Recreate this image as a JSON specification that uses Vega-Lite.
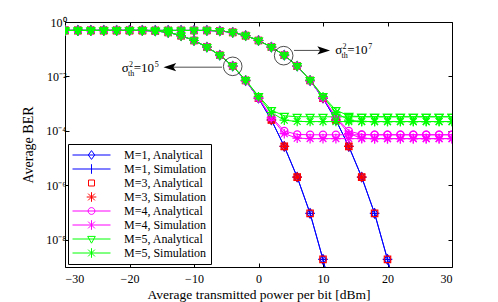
{
"$schema":"https://vega.github.io/schema/vega-lite/v6.json",
"width":387,"height":245,
"autosize":{"type":"none"},
"padding":{"left":65,"top":22,"right":46,"bottom":35},
"config":{"view":{"stroke":null},"font":"Liberation Serif",
"axis":{"grid":false,"domainColor":"black","tickColor":"black","labelColor":"black","titleColor":"black","labelFont":"Liberation Serif","titleFont":"Liberation Serif","titleFontWeight":"normal","labelFontSize":12,"titleFontSize":13,"tickSize":-4,"domainWidth":1,"tickWidth":1}},
"datasets":{
"ber":[
{"s":"m1a","g":"a","x":-30,"y":0.49},{"s":"m1a","g":"a","x":-28,"y":0.49},{"s":"m1a","g":"a","x":-26,"y":0.49},{"s":"m1a","g":"a","x":-24,"y":0.49},{"s":"m1a","g":"a","x":-22,"y":0.49},{"s":"m1a","g":"a","x":-20,"y":0.49},{"s":"m1a","g":"a","x":-18,"y":0.49},{"s":"m1a","g":"a","x":-16,"y":0.468},{"s":"m1a","g":"a","x":-14,"y":0.417},{"s":"m1a","g":"a","x":-12,"y":0.316},{"s":"m1a","g":"a","x":-10,"y":0.209},{"s":"m1a","g":"a","x":-8,"y":0.12},{"s":"m1a","g":"a","x":-6,"y":0.0603},{"s":"m1a","g":"a","x":-4,"y":0.024},{"s":"m1a","g":"a","x":-2,"y":0.00708},{"s":"m1a","g":"a","x":0,"y":0.00158},{"s":"m1a","g":"a","x":2,"y":0.000251},{"s":"m1a","g":"a","x":4,"y":2.69e-5},{"s":"m1a","g":"a","x":6,"y":2e-6},{"s":"m1a","g":"a","x":8,"y":9.3e-8},{"s":"m1a","g":"a","x":10,"y":1.9e-9},{"s":"m1a","g":"a","x":12,"y":2.5e-11},
{"s":"m1a","g":"b","x":-30,"y":0.49},{"s":"m1a","g":"b","x":-28,"y":0.49},{"s":"m1a","g":"b","x":-26,"y":0.49},{"s":"m1a","g":"b","x":-24,"y":0.49},{"s":"m1a","g":"b","x":-22,"y":0.49},{"s":"m1a","g":"b","x":-20,"y":0.49},{"s":"m1a","g":"b","x":-18,"y":0.49},{"s":"m1a","g":"b","x":-16,"y":0.49},{"s":"m1a","g":"b","x":-14,"y":0.49},{"s":"m1a","g":"b","x":-12,"y":0.49},{"s":"m1a","g":"b","x":-10,"y":0.49},{"s":"m1a","g":"b","x":-8,"y":0.49},{"s":"m1a","g":"b","x":-6,"y":0.468},{"s":"m1a","g":"b","x":-4,"y":0.417},{"s":"m1a","g":"b","x":-2,"y":0.316},{"s":"m1a","g":"b","x":0,"y":0.209},{"s":"m1a","g":"b","x":2,"y":0.12},{"s":"m1a","g":"b","x":4,"y":0.0603},{"s":"m1a","g":"b","x":6,"y":0.024},{"s":"m1a","g":"b","x":8,"y":0.00708},{"s":"m1a","g":"b","x":10,"y":0.00158},{"s":"m1a","g":"b","x":12,"y":0.000251},{"s":"m1a","g":"b","x":14,"y":2.69e-5},{"s":"m1a","g":"b","x":16,"y":2e-6},{"s":"m1a","g":"b","x":18,"y":9.3e-8},{"s":"m1a","g":"b","x":20,"y":1.9e-9},{"s":"m1a","g":"b","x":22,"y":2.5e-11},
{"s":"m1s","g":"a","x":-30,"y":0.49},{"s":"m1s","g":"a","x":-28,"y":0.49},{"s":"m1s","g":"a","x":-26,"y":0.49},{"s":"m1s","g":"a","x":-24,"y":0.49},{"s":"m1s","g":"a","x":-22,"y":0.49},{"s":"m1s","g":"a","x":-20,"y":0.49},{"s":"m1s","g":"a","x":-18,"y":0.49},{"s":"m1s","g":"a","x":-16,"y":0.468},{"s":"m1s","g":"a","x":-14,"y":0.417},{"s":"m1s","g":"a","x":-12,"y":0.316},{"s":"m1s","g":"a","x":-10,"y":0.209},{"s":"m1s","g":"a","x":-8,"y":0.12},{"s":"m1s","g":"a","x":-6,"y":0.0603},{"s":"m1s","g":"a","x":-4,"y":0.024},{"s":"m1s","g":"a","x":-2,"y":0.00708},{"s":"m1s","g":"a","x":0,"y":0.00158},{"s":"m1s","g":"a","x":2,"y":0.000251},{"s":"m1s","g":"a","x":4,"y":2.69e-5},{"s":"m1s","g":"a","x":6,"y":2e-6},{"s":"m1s","g":"a","x":8,"y":9.3e-8},{"s":"m1s","g":"a","x":10,"y":1.9e-9},{"s":"m1s","g":"a","x":12,"y":2.5e-11},
{"s":"m1s","g":"b","x":-30,"y":0.49},{"s":"m1s","g":"b","x":-28,"y":0.49},{"s":"m1s","g":"b","x":-26,"y":0.49},{"s":"m1s","g":"b","x":-24,"y":0.49},{"s":"m1s","g":"b","x":-22,"y":0.49},{"s":"m1s","g":"b","x":-20,"y":0.49},{"s":"m1s","g":"b","x":-18,"y":0.49},{"s":"m1s","g":"b","x":-16,"y":0.49},{"s":"m1s","g":"b","x":-14,"y":0.49},{"s":"m1s","g":"b","x":-12,"y":0.49},{"s":"m1s","g":"b","x":-10,"y":0.49},{"s":"m1s","g":"b","x":-8,"y":0.49},{"s":"m1s","g":"b","x":-6,"y":0.468},{"s":"m1s","g":"b","x":-4,"y":0.417},{"s":"m1s","g":"b","x":-2,"y":0.316},{"s":"m1s","g":"b","x":0,"y":0.209},{"s":"m1s","g":"b","x":2,"y":0.12},{"s":"m1s","g":"b","x":4,"y":0.0603},{"s":"m1s","g":"b","x":6,"y":0.024},{"s":"m1s","g":"b","x":8,"y":0.00708},{"s":"m1s","g":"b","x":10,"y":0.00158},{"s":"m1s","g":"b","x":12,"y":0.000251},{"s":"m1s","g":"b","x":14,"y":2.69e-5},{"s":"m1s","g":"b","x":16,"y":2e-6},{"s":"m1s","g":"b","x":18,"y":9.3e-8},{"s":"m1s","g":"b","x":20,"y":1.9e-9},{"s":"m1s","g":"b","x":22,"y":2.5e-11},
{"s":"m3a","g":"a","x":-30,"y":0.49},{"s":"m3a","g":"a","x":-28,"y":0.49},{"s":"m3a","g":"a","x":-26,"y":0.49},{"s":"m3a","g":"a","x":-24,"y":0.49},{"s":"m3a","g":"a","x":-22,"y":0.49},{"s":"m3a","g":"a","x":-20,"y":0.49},{"s":"m3a","g":"a","x":-18,"y":0.49},{"s":"m3a","g":"a","x":-16,"y":0.468},{"s":"m3a","g":"a","x":-14,"y":0.417},{"s":"m3a","g":"a","x":-12,"y":0.316},{"s":"m3a","g":"a","x":-10,"y":0.209},{"s":"m3a","g":"a","x":-8,"y":0.12},{"s":"m3a","g":"a","x":-6,"y":0.0603},{"s":"m3a","g":"a","x":-4,"y":0.024},{"s":"m3a","g":"a","x":-2,"y":0.00708},{"s":"m3a","g":"a","x":0,"y":0.00158},{"s":"m3a","g":"a","x":2,"y":0.000251},{"s":"m3a","g":"a","x":4,"y":2.69e-5},{"s":"m3a","g":"a","x":6,"y":2e-6},{"s":"m3a","g":"a","x":8,"y":9.3e-8},{"s":"m3a","g":"a","x":10,"y":1.9e-9},
{"s":"m3a","g":"b","x":-30,"y":0.49},{"s":"m3a","g":"b","x":-28,"y":0.49},{"s":"m3a","g":"b","x":-26,"y":0.49},{"s":"m3a","g":"b","x":-24,"y":0.49},{"s":"m3a","g":"b","x":-22,"y":0.49},{"s":"m3a","g":"b","x":-20,"y":0.49},{"s":"m3a","g":"b","x":-18,"y":0.49},{"s":"m3a","g":"b","x":-16,"y":0.49},{"s":"m3a","g":"b","x":-14,"y":0.49},{"s":"m3a","g":"b","x":-12,"y":0.49},{"s":"m3a","g":"b","x":-10,"y":0.49},{"s":"m3a","g":"b","x":-8,"y":0.49},{"s":"m3a","g":"b","x":-6,"y":0.468},{"s":"m3a","g":"b","x":-4,"y":0.417},{"s":"m3a","g":"b","x":-2,"y":0.316},{"s":"m3a","g":"b","x":0,"y":0.209},{"s":"m3a","g":"b","x":2,"y":0.12},{"s":"m3a","g":"b","x":4,"y":0.0603},{"s":"m3a","g":"b","x":6,"y":0.024},{"s":"m3a","g":"b","x":8,"y":0.00708},{"s":"m3a","g":"b","x":10,"y":0.00158},{"s":"m3a","g":"b","x":12,"y":0.000251},{"s":"m3a","g":"b","x":14,"y":2.69e-5},{"s":"m3a","g":"b","x":16,"y":2e-6},{"s":"m3a","g":"b","x":18,"y":9.3e-8},{"s":"m3a","g":"b","x":20,"y":1.9e-9},
{"s":"m3s","g":"a","x":-30,"y":0.49},{"s":"m3s","g":"a","x":-28,"y":0.49},{"s":"m3s","g":"a","x":-26,"y":0.49},{"s":"m3s","g":"a","x":-24,"y":0.49},{"s":"m3s","g":"a","x":-22,"y":0.49},{"s":"m3s","g":"a","x":-20,"y":0.49},{"s":"m3s","g":"a","x":-18,"y":0.49},{"s":"m3s","g":"a","x":-16,"y":0.468},{"s":"m3s","g":"a","x":-14,"y":0.417},{"s":"m3s","g":"a","x":-12,"y":0.316},{"s":"m3s","g":"a","x":-10,"y":0.209},{"s":"m3s","g":"a","x":-8,"y":0.12},{"s":"m3s","g":"a","x":-6,"y":0.0603},{"s":"m3s","g":"a","x":-4,"y":0.024},{"s":"m3s","g":"a","x":-2,"y":0.00708},{"s":"m3s","g":"a","x":0,"y":0.00158},{"s":"m3s","g":"a","x":2,"y":0.000251},{"s":"m3s","g":"a","x":4,"y":2.69e-5},{"s":"m3s","g":"a","x":6,"y":2e-6},
{"s":"m3s","g":"b","x":-30,"y":0.49},{"s":"m3s","g":"b","x":-28,"y":0.49},{"s":"m3s","g":"b","x":-26,"y":0.49},{"s":"m3s","g":"b","x":-24,"y":0.49},{"s":"m3s","g":"b","x":-22,"y":0.49},{"s":"m3s","g":"b","x":-20,"y":0.49},{"s":"m3s","g":"b","x":-18,"y":0.49},{"s":"m3s","g":"b","x":-16,"y":0.49},{"s":"m3s","g":"b","x":-14,"y":0.49},{"s":"m3s","g":"b","x":-12,"y":0.49},{"s":"m3s","g":"b","x":-10,"y":0.49},{"s":"m3s","g":"b","x":-8,"y":0.49},{"s":"m3s","g":"b","x":-6,"y":0.468},{"s":"m3s","g":"b","x":-4,"y":0.417},{"s":"m3s","g":"b","x":-2,"y":0.316},{"s":"m3s","g":"b","x":0,"y":0.209},{"s":"m3s","g":"b","x":2,"y":0.12},{"s":"m3s","g":"b","x":4,"y":0.0603},{"s":"m3s","g":"b","x":6,"y":0.024},{"s":"m3s","g":"b","x":8,"y":0.00708},{"s":"m3s","g":"b","x":10,"y":0.00158},{"s":"m3s","g":"b","x":12,"y":0.000251},{"s":"m3s","g":"b","x":14,"y":2.69e-5},{"s":"m3s","g":"b","x":16,"y":2e-6},
{"s":"m4a","g":"a","x":-30,"y":0.49},{"s":"m4a","g":"a","x":-28,"y":0.49},{"s":"m4a","g":"a","x":-26,"y":0.49},{"s":"m4a","g":"a","x":-24,"y":0.49},{"s":"m4a","g":"a","x":-22,"y":0.49},{"s":"m4a","g":"a","x":-20,"y":0.49},{"s":"m4a","g":"a","x":-18,"y":0.49},{"s":"m4a","g":"a","x":-16,"y":0.468},{"s":"m4a","g":"a","x":-14,"y":0.417},{"s":"m4a","g":"a","x":-12,"y":0.316},{"s":"m4a","g":"a","x":-10,"y":0.209},{"s":"m4a","g":"a","x":-8,"y":0.12},{"s":"m4a","g":"a","x":-6,"y":0.0603},{"s":"m4a","g":"a","x":-4,"y":0.0241},{"s":"m4a","g":"a","x":-2,"y":0.00715},{"s":"m4a","g":"a","x":0,"y":0.00165},{"s":"m4a","g":"a","x":2,"y":0.000323},{"s":"m4a","g":"a","x":4,"y":9.89e-5},{"s":"m4a","g":"a","x":6,"y":7.4e-5},{"s":"m4a","g":"a","x":8,"y":7.2e-5},{"s":"m4a","g":"a","x":10,"y":7.2e-5},{"s":"m4a","g":"a","x":12,"y":7.2e-5},{"s":"m4a","g":"a","x":14,"y":7.2e-5},{"s":"m4a","g":"a","x":16,"y":7.2e-5},{"s":"m4a","g":"a","x":18,"y":7.2e-5},{"s":"m4a","g":"a","x":20,"y":7.2e-5},{"s":"m4a","g":"a","x":22,"y":7.2e-5},{"s":"m4a","g":"a","x":24,"y":7.2e-5},{"s":"m4a","g":"a","x":26,"y":7.2e-5},{"s":"m4a","g":"a","x":28,"y":7.2e-5},{"s":"m4a","g":"a","x":30,"y":7.2e-5},
{"s":"m4a","g":"b","x":-30,"y":0.49},{"s":"m4a","g":"b","x":-28,"y":0.49},{"s":"m4a","g":"b","x":-26,"y":0.49},{"s":"m4a","g":"b","x":-24,"y":0.49},{"s":"m4a","g":"b","x":-22,"y":0.49},{"s":"m4a","g":"b","x":-20,"y":0.49},{"s":"m4a","g":"b","x":-18,"y":0.49},{"s":"m4a","g":"b","x":-16,"y":0.49},{"s":"m4a","g":"b","x":-14,"y":0.49},{"s":"m4a","g":"b","x":-12,"y":0.49},{"s":"m4a","g":"b","x":-10,"y":0.49},{"s":"m4a","g":"b","x":-8,"y":0.49},{"s":"m4a","g":"b","x":-6,"y":0.468},{"s":"m4a","g":"b","x":-4,"y":0.417},{"s":"m4a","g":"b","x":-2,"y":0.316},{"s":"m4a","g":"b","x":0,"y":0.209},{"s":"m4a","g":"b","x":2,"y":0.12},{"s":"m4a","g":"b","x":4,"y":0.0603},{"s":"m4a","g":"b","x":6,"y":0.0241},{"s":"m4a","g":"b","x":8,"y":0.00715},{"s":"m4a","g":"b","x":10,"y":0.00165},{"s":"m4a","g":"b","x":12,"y":0.000323},{"s":"m4a","g":"b","x":14,"y":9.89e-5},{"s":"m4a","g":"b","x":16,"y":7.4e-5},{"s":"m4a","g":"b","x":18,"y":7.2e-5},{"s":"m4a","g":"b","x":20,"y":7.2e-5},{"s":"m4a","g":"b","x":22,"y":7.2e-5},{"s":"m4a","g":"b","x":24,"y":7.2e-5},{"s":"m4a","g":"b","x":26,"y":7.2e-5},{"s":"m4a","g":"b","x":28,"y":7.2e-5},{"s":"m4a","g":"b","x":30,"y":7.2e-5},
{"s":"m4s","g":"a","x":-30,"y":0.49},{"s":"m4s","g":"a","x":-28,"y":0.49},{"s":"m4s","g":"a","x":-26,"y":0.49},{"s":"m4s","g":"a","x":-24,"y":0.49},{"s":"m4s","g":"a","x":-22,"y":0.49},{"s":"m4s","g":"a","x":-20,"y":0.49},{"s":"m4s","g":"a","x":-18,"y":0.49},{"s":"m4s","g":"a","x":-16,"y":0.468},{"s":"m4s","g":"a","x":-14,"y":0.417},{"s":"m4s","g":"a","x":-12,"y":0.316},{"s":"m4s","g":"a","x":-10,"y":0.209},{"s":"m4s","g":"a","x":-8,"y":0.12},{"s":"m4s","g":"a","x":-6,"y":0.0603},{"s":"m4s","g":"a","x":-4,"y":0.0241},{"s":"m4s","g":"a","x":-2,"y":0.00713},{"s":"m4s","g":"a","x":0,"y":0.00163},{"s":"m4s","g":"a","x":2,"y":0.000303},{"s":"m4s","g":"a","x":4,"y":7.89e-5},{"s":"m4s","g":"a","x":6,"y":5.4e-5},{"s":"m4s","g":"a","x":8,"y":5.2e-5},{"s":"m4s","g":"a","x":10,"y":5.2e-5},{"s":"m4s","g":"a","x":12,"y":5.2e-5},{"s":"m4s","g":"a","x":14,"y":5.2e-5},{"s":"m4s","g":"a","x":16,"y":5.2e-5},{"s":"m4s","g":"a","x":18,"y":5.2e-5},{"s":"m4s","g":"a","x":20,"y":5.2e-5},{"s":"m4s","g":"a","x":22,"y":5.2e-5},{"s":"m4s","g":"a","x":24,"y":5.2e-5},{"s":"m4s","g":"a","x":26,"y":5.2e-5},{"s":"m4s","g":"a","x":28,"y":5.2e-5},{"s":"m4s","g":"a","x":30,"y":5.2e-5},
{"s":"m4s","g":"b","x":-30,"y":0.49},{"s":"m4s","g":"b","x":-28,"y":0.49},{"s":"m4s","g":"b","x":-26,"y":0.49},{"s":"m4s","g":"b","x":-24,"y":0.49},{"s":"m4s","g":"b","x":-22,"y":0.49},{"s":"m4s","g":"b","x":-20,"y":0.49},{"s":"m4s","g":"b","x":-18,"y":0.49},{"s":"m4s","g":"b","x":-16,"y":0.49},{"s":"m4s","g":"b","x":-14,"y":0.49},{"s":"m4s","g":"b","x":-12,"y":0.49},{"s":"m4s","g":"b","x":-10,"y":0.49},{"s":"m4s","g":"b","x":-8,"y":0.49},{"s":"m4s","g":"b","x":-6,"y":0.468},{"s":"m4s","g":"b","x":-4,"y":0.417},{"s":"m4s","g":"b","x":-2,"y":0.316},{"s":"m4s","g":"b","x":0,"y":0.209},{"s":"m4s","g":"b","x":2,"y":0.12},{"s":"m4s","g":"b","x":4,"y":0.0603},{"s":"m4s","g":"b","x":6,"y":0.0241},{"s":"m4s","g":"b","x":8,"y":0.00713},{"s":"m4s","g":"b","x":10,"y":0.00163},{"s":"m4s","g":"b","x":12,"y":0.000303},{"s":"m4s","g":"b","x":14,"y":7.89e-5},{"s":"m4s","g":"b","x":16,"y":5.4e-5},{"s":"m4s","g":"b","x":18,"y":5.2e-5},{"s":"m4s","g":"b","x":20,"y":5.2e-5},{"s":"m4s","g":"b","x":22,"y":5.2e-5},{"s":"m4s","g":"b","x":24,"y":5.2e-5},{"s":"m4s","g":"b","x":26,"y":5.2e-5},{"s":"m4s","g":"b","x":28,"y":5.2e-5},{"s":"m4s","g":"b","x":30,"y":5.2e-5},
{"s":"m5a","g":"a","x":-30,"y":0.49},{"s":"m5a","g":"a","x":-28,"y":0.49},{"s":"m5a","g":"a","x":-26,"y":0.49},{"s":"m5a","g":"a","x":-24,"y":0.49},{"s":"m5a","g":"a","x":-22,"y":0.49},{"s":"m5a","g":"a","x":-20,"y":0.49},{"s":"m5a","g":"a","x":-18,"y":0.49},{"s":"m5a","g":"a","x":-16,"y":0.468},{"s":"m5a","g":"a","x":-14,"y":0.417},{"s":"m5a","g":"a","x":-12,"y":0.316},{"s":"m5a","g":"a","x":-10,"y":0.209},{"s":"m5a","g":"a","x":-8,"y":0.12},{"s":"m5a","g":"a","x":-6,"y":0.0603},{"s":"m5a","g":"a","x":-4,"y":0.0243},{"s":"m5a","g":"a","x":-2,"y":0.00741},{"s":"m5a","g":"a","x":0,"y":0.00191},{"s":"m5a","g":"a","x":2,"y":0.000581},{"s":"m5a","g":"a","x":4,"y":0.000357},{"s":"m5a","g":"a","x":6,"y":0.000332},{"s":"m5a","g":"a","x":8,"y":0.00033},{"s":"m5a","g":"a","x":10,"y":0.00033},{"s":"m5a","g":"a","x":12,"y":0.00033},{"s":"m5a","g":"a","x":14,"y":0.00033},{"s":"m5a","g":"a","x":16,"y":0.00033},{"s":"m5a","g":"a","x":18,"y":0.00033},{"s":"m5a","g":"a","x":20,"y":0.00033},{"s":"m5a","g":"a","x":22,"y":0.00033},{"s":"m5a","g":"a","x":24,"y":0.00033},{"s":"m5a","g":"a","x":26,"y":0.00033},{"s":"m5a","g":"a","x":28,"y":0.00033},{"s":"m5a","g":"a","x":30,"y":0.00033},
{"s":"m5a","g":"b","x":-30,"y":0.49},{"s":"m5a","g":"b","x":-28,"y":0.49},{"s":"m5a","g":"b","x":-26,"y":0.49},{"s":"m5a","g":"b","x":-24,"y":0.49},{"s":"m5a","g":"b","x":-22,"y":0.49},{"s":"m5a","g":"b","x":-20,"y":0.49},{"s":"m5a","g":"b","x":-18,"y":0.49},{"s":"m5a","g":"b","x":-16,"y":0.49},{"s":"m5a","g":"b","x":-14,"y":0.49},{"s":"m5a","g":"b","x":-12,"y":0.49},{"s":"m5a","g":"b","x":-10,"y":0.49},{"s":"m5a","g":"b","x":-8,"y":0.49},{"s":"m5a","g":"b","x":-6,"y":0.468},{"s":"m5a","g":"b","x":-4,"y":0.417},{"s":"m5a","g":"b","x":-2,"y":0.316},{"s":"m5a","g":"b","x":0,"y":0.209},{"s":"m5a","g":"b","x":2,"y":0.12},{"s":"m5a","g":"b","x":4,"y":0.0603},{"s":"m5a","g":"b","x":6,"y":0.0243},{"s":"m5a","g":"b","x":8,"y":0.00741},{"s":"m5a","g":"b","x":10,"y":0.00191},{"s":"m5a","g":"b","x":12,"y":0.000581},{"s":"m5a","g":"b","x":14,"y":0.000357},{"s":"m5a","g":"b","x":16,"y":0.000332},{"s":"m5a","g":"b","x":18,"y":0.00033},{"s":"m5a","g":"b","x":20,"y":0.00033},{"s":"m5a","g":"b","x":22,"y":0.00033},{"s":"m5a","g":"b","x":24,"y":0.00033},{"s":"m5a","g":"b","x":26,"y":0.00033},{"s":"m5a","g":"b","x":28,"y":0.00033},{"s":"m5a","g":"b","x":30,"y":0.00033},
{"s":"m5s","g":"a","x":-30,"y":0.49},{"s":"m5s","g":"a","x":-28,"y":0.49},{"s":"m5s","g":"a","x":-26,"y":0.49},{"s":"m5s","g":"a","x":-24,"y":0.49},{"s":"m5s","g":"a","x":-22,"y":0.49},{"s":"m5s","g":"a","x":-20,"y":0.49},{"s":"m5s","g":"a","x":-18,"y":0.49},{"s":"m5s","g":"a","x":-16,"y":0.468},{"s":"m5s","g":"a","x":-14,"y":0.417},{"s":"m5s","g":"a","x":-12,"y":0.316},{"s":"m5s","g":"a","x":-10,"y":0.209},{"s":"m5s","g":"a","x":-8,"y":0.12},{"s":"m5s","g":"a","x":-6,"y":0.0603},{"s":"m5s","g":"a","x":-4,"y":0.0242},{"s":"m5s","g":"a","x":-2,"y":0.0073},{"s":"m5s","g":"a","x":0,"y":0.0018},{"s":"m5s","g":"a","x":2,"y":0.000471},{"s":"m5s","g":"a","x":4,"y":0.000247},{"s":"m5s","g":"a","x":6,"y":0.000222},{"s":"m5s","g":"a","x":8,"y":0.00022},{"s":"m5s","g":"a","x":10,"y":0.00022},{"s":"m5s","g":"a","x":12,"y":0.00022},{"s":"m5s","g":"a","x":14,"y":0.00022},{"s":"m5s","g":"a","x":16,"y":0.00022},{"s":"m5s","g":"a","x":18,"y":0.00022},{"s":"m5s","g":"a","x":20,"y":0.00022},{"s":"m5s","g":"a","x":22,"y":0.00022},{"s":"m5s","g":"a","x":24,"y":0.00022},{"s":"m5s","g":"a","x":26,"y":0.00022},{"s":"m5s","g":"a","x":28,"y":0.00022},{"s":"m5s","g":"a","x":30,"y":0.00022},
{"s":"m5s","g":"b","x":-30,"y":0.49},{"s":"m5s","g":"b","x":-28,"y":0.49},{"s":"m5s","g":"b","x":-26,"y":0.49},{"s":"m5s","g":"b","x":-24,"y":0.49},{"s":"m5s","g":"b","x":-22,"y":0.49},{"s":"m5s","g":"b","x":-20,"y":0.49},{"s":"m5s","g":"b","x":-18,"y":0.49},{"s":"m5s","g":"b","x":-16,"y":0.49},{"s":"m5s","g":"b","x":-14,"y":0.49},{"s":"m5s","g":"b","x":-12,"y":0.49},{"s":"m5s","g":"b","x":-10,"y":0.49},{"s":"m5s","g":"b","x":-8,"y":0.49},{"s":"m5s","g":"b","x":-6,"y":0.468},{"s":"m5s","g":"b","x":-4,"y":0.417},{"s":"m5s","g":"b","x":-2,"y":0.316},{"s":"m5s","g":"b","x":0,"y":0.209},{"s":"m5s","g":"b","x":2,"y":0.12},{"s":"m5s","g":"b","x":4,"y":0.0603},{"s":"m5s","g":"b","x":6,"y":0.0242},{"s":"m5s","g":"b","x":8,"y":0.0073},{"s":"m5s","g":"b","x":10,"y":0.0018},{"s":"m5s","g":"b","x":12,"y":0.000471},{"s":"m5s","g":"b","x":14,"y":0.000247},{"s":"m5s","g":"b","x":16,"y":0.000222},{"s":"m5s","g":"b","x":18,"y":0.00022},{"s":"m5s","g":"b","x":20,"y":0.00022},{"s":"m5s","g":"b","x":22,"y":0.00022},{"s":"m5s","g":"b","x":24,"y":0.00022},{"s":"m5s","g":"b","x":26,"y":0.00022},{"s":"m5s","g":"b","x":28,"y":0.00022},{"s":"m5s","g":"b","x":30,"y":0.00022}
],
"ann":[{"x":-21.2,"y":0.0145,"e":"5"},{"x":11.9,"y":0.0673,"e":"7"}]
},
"layer":[
{"data":{"name":"ber"},
"transform":[{"filter":{"field":"s","oneOf":["m1a","m1s","m4a","m4s","m5a","m5s"]}}],
"mark":{"type":"line","strokeWidth":1,"clip":true},
"encoding":{
"x":{"field":"x","type":"quantitative","scale":{"domain":[-30,30],"nice":false,"zero":false},"axis":{"orient":"bottom","values":[-30,-20,-10,0,10,20,30],"title":"Average transmitted power per bit [dBm]","labelPadding":10,"titlePadding":3,"titleFontSize":13.5}},
"y":{"field":"y","type":"quantitative","scale":{"type":"log","domain":[1e-9,1],"nice":false},"axis":{"orient":"left","values":[1,0.01,0.0001,0.000001,1e-8],"labelPadding":3,"labelExpr":"'10' + (round(log(datum.value)/LN10)==0 ? '⁰' : '⁻' + ['⁰','¹','²','³','⁴','⁵','⁶','⁷','⁸','⁹'][-round(log(datum.value)/LN10)])","title":"Average BER","titlePadding":10,"titleFontSize":14}},
"color":{"field":"s","type":"nominal","scale":{"domain":["m1a","m1s","m3a","m3s","m4a","m4s","m5a","m5s"],"range":["#0000ff","#0000ff","#ff0000","#ff0000","#ff00ff","#ff00ff","#00ff00","#00ff00"]},
"legend":{"orient":"bottom-left","offset":3,"title":null,"labelExpr":"'M=' + substring(datum.value,1,2) + ', ' + (substring(datum.value,2,3)=='a' ? 'Analytical' : 'Simulation')","labelFont":"Liberation Serif","labelFontSize":12,"labelColor":"black","symbolSize":400,"symbolOffset":9,"clipHeight":14,"rowPadding":0,"padding":4,"labelOffset":22,"strokeColor":"black","fillColor":"white",
"encode":{"symbols":{"update":{"fill":{"value":"transparent"},"strokeWidth":{"value":1}}}}}},
"detail":{"field":"g"}
}},
{"data":{"name":"ber"},"transform":[{"filter":"false"}],
"mark":{"type":"point","filled":false,"strokeWidth":1,"opacity":1},
"encoding":{
"x":{"field":"x","type":"quantitative","axis":null},
"y":{"field":"y","type":"quantitative","axis":null},
"color":{"field":"s","type":"nominal"},
"shape":{"field":"s","type":"nominal","scale":{"domain":["m1a","m1s","m3a","m3s","m4a","m4s","m5a","m5s"],"range":["M-1.9,0L1.9,0M0,-0.44L0.32,0L0,0.44L-0.32,0Z","M-1.9,0L1.9,0M0,-0.48L0,0.48","M-0.3,-0.3L0.3,-0.3L0.3,0.3L-0.3,0.3Z","M-0.48,0L0.48,0M0,-0.48L0,0.48M-0.34,-0.34L0.34,0.34M-0.34,0.34L0.34,-0.34","M-1.9,0L1.9,0M0.34,0A0.34,0.34,0,1,1,-0.34,0A0.34,0.34,0,1,1,0.34,0","M-1.9,0L1.9,0M0,-0.48L0,0.48M-0.34,-0.34L0.34,0.34M-0.34,0.34L0.34,-0.34","M-1.9,0L1.9,0M-0.38,-0.26L0.38,-0.26L0,0.42Z","M-1.9,0L1.9,0M0,-0.48L0,0.48M-0.34,-0.34L0.34,0.34M-0.34,0.34L0.34,-0.34"]},
"legend":{"orient":"bottom-left","offset":3,"title":null,"labelExpr":"'M=' + substring(datum.value,1,2) + ', ' + (substring(datum.value,2,3)=='a' ? 'Analytical' : 'Simulation')","labelFont":"Liberation Serif","labelFontSize":12,"labelColor":"black","symbolSize":400,"symbolOffset":9,"clipHeight":14,"rowPadding":0,"padding":4,"labelOffset":22,"strokeColor":"black","fillColor":"white",
"encode":{"symbols":{"update":{"fill":{"value":"transparent"},"strokeWidth":{"value":1}}}}}}
}},
{"data":{"name":"ber"},"transform":[{"filter":{"field":"s","equal":"m1a"}}],
"mark":{"type":"point","shape":"M0,-1.15L0.85,0L0,1.15L-0.85,0Z","filled":false,"size":64,"strokeWidth":1.2,"opacity":1,"clip":true},
"encoding":{
"x":{"field":"x","type":"quantitative","axis":{"orient":"top","values":[-30,-20,-10,0,10,20,30],"labels":false,"title":null}},
"y":{"field":"y","type":"quantitative","axis":{"orient":"right","values":[1,0.01,0.0001,0.000001,1e-8],"labels":false,"title":null}},
"color":{"field":"s","type":"nominal"}}},
{"data":{"name":"ber"},"transform":[{"filter":{"field":"s","equal":"m1s"}}],
"mark":{"type":"point","shape":"M-1.2,0L1.2,0M0,-1.2L0,1.2","filled":false,"size":64,"strokeWidth":1.2,"opacity":1,"clip":true},
"encoding":{"x":{"field":"x","type":"quantitative","axis":null},"y":{"field":"y","type":"quantitative","axis":null},"color":{"field":"s","type":"nominal"}}},
{"data":{"name":"ber"},"transform":[{"filter":{"field":"s","equal":"m3a"}}],
"mark":{"type":"point","shape":"M-0.8,-0.8L0.8,-0.8L0.8,0.8L-0.8,0.8Z","filled":false,"size":64,"strokeWidth":1.2,"opacity":1,"clip":true},
"encoding":{"x":{"field":"x","type":"quantitative","axis":null},"y":{"field":"y","type":"quantitative","axis":null},"color":{"field":"s","type":"nominal"}}},
{"data":{"name":"ber"},"transform":[{"filter":{"field":"s","equal":"m3s"}}],
"mark":{"type":"point","shape":"M-1.2,0L1.2,0M0,-1.2L0,1.2M-0.85,-0.85L0.85,0.85M-0.85,0.85L0.85,-0.85","filled":false,"size":64,"strokeWidth":1.2,"opacity":1,"clip":true},
"encoding":{"x":{"field":"x","type":"quantitative","axis":null},"y":{"field":"y","type":"quantitative","axis":null},"color":{"field":"s","type":"nominal"}}},
{"data":{"name":"ber"},"transform":[{"filter":{"field":"s","equal":"m4a"}}],
"mark":{"type":"point","shape":"M0.9,0A0.9,0.9,0,1,1,-0.9,0A0.9,0.9,0,1,1,0.9,0","filled":false,"size":64,"strokeWidth":1.2,"opacity":1,"clip":true},
"encoding":{"x":{"field":"x","type":"quantitative","axis":null},"y":{"field":"y","type":"quantitative","axis":null},"color":{"field":"s","type":"nominal"}}},
{"data":{"name":"ber"},"transform":[{"filter":{"field":"s","equal":"m4s"}}],
"mark":{"type":"point","shape":"M-1.2,0L1.2,0M0,-1.2L0,1.2M-0.85,-0.85L0.85,0.85M-0.85,0.85L0.85,-0.85","filled":false,"size":64,"strokeWidth":1.2,"opacity":1,"clip":true},
"encoding":{"x":{"field":"x","type":"quantitative","axis":null},"y":{"field":"y","type":"quantitative","axis":null},"color":{"field":"s","type":"nominal"}}},
{"data":{"name":"ber"},"transform":[{"filter":{"field":"s","equal":"m5a"}}],
"mark":{"type":"point","shape":"M-1,-0.6L1,-0.6L0,1.1Z","filled":false,"size":64,"strokeWidth":1.2,"opacity":1,"clip":true},
"encoding":{"x":{"field":"x","type":"quantitative","axis":null},"y":{"field":"y","type":"quantitative","axis":null},"color":{"field":"s","type":"nominal"}}},
{"data":{"name":"ber"},"transform":[{"filter":{"field":"s","equal":"m5s"}}],
"mark":{"type":"point","shape":"M-1.2,0L1.2,0M0,-1.2L0,1.2M-0.85,-0.85L0.85,0.85M-0.85,0.85L0.85,-0.85","filled":false,"size":64,"strokeWidth":1.2,"opacity":1,"clip":true},
"encoding":{"x":{"field":"x","type":"quantitative","axis":null},"y":{"field":"y","type":"quantitative","axis":null},"color":{"field":"s","type":"nominal"}}},
{"data":{"values":[{"x":-4,"y":0.0235},{"x":3.9,"y":0.058}]},
"mark":{"type":"point","shape":"circle","size":346,"filled":false,"color":"black","strokeWidth":0.7,"opacity":1},
"encoding":{"x":{"field":"x","type":"quantitative","axis":null},"y":{"field":"y","type":"quantitative","axis":null}}},
{"data":{"values":[{"x":-5.66,"x2":-14.2,"y":0.0219},{"x":5.5,"x2":10.6,"y":0.0904}]},
"mark":{"type":"rule","color":"black","strokeWidth":0.7},
"encoding":{"x":{"field":"x","type":"quantitative","axis":null},"x2":{"field":"x2"},"y":{"field":"y","type":"quantitative","axis":null}}},
{"data":{"values":[{"x":-14.73,"y":0.0219}]},
"mark":{"type":"point","shape":"M0,0L2,-0.65L1.55,0L2,0.65Z","size":161,"filled":true,"color":"black","opacity":1},
"encoding":{"x":{"field":"x","type":"quantitative","axis":null},"y":{"field":"y","type":"quantitative","axis":null}}},
{"data":{"values":[{"x":11.09,"y":0.0904}]},
"mark":{"type":"point","shape":"M0,0L-2,-0.65L-1.55,0L-2,0.65Z","size":161,"filled":true,"color":"black","opacity":1},
"encoding":{"x":{"field":"x","type":"quantitative","axis":null},"y":{"field":"y","type":"quantitative","axis":null}}},
{"data":{"name":"ann"},
"mark":{"type":"text","text":"σ","align":"left","baseline":"alphabetic","fontSize":13,"font":"Liberation Serif","color":"black"},
"encoding":{"x":{"field":"x","type":"quantitative","axis":null},"y":{"field":"y","type":"quantitative","axis":null}}},
{"data":{"name":"ann"},
"mark":{"type":"text","text":"2","align":"left","baseline":"alphabetic","dx":7.3,"dy":-5,"fontSize":8,"font":"Liberation Serif","color":"black"},
"encoding":{"x":{"field":"x","type":"quantitative","axis":null},"y":{"field":"y","type":"quantitative","axis":null}}},
{"data":{"name":"ann"},
"mark":{"type":"text","text":"th","align":"left","baseline":"alphabetic","dx":6.3,"dy":4,"fontSize":8,"font":"Liberation Serif","color":"black"},
"encoding":{"x":{"field":"x","type":"quantitative","axis":null},"y":{"field":"y","type":"quantitative","axis":null}}},
{"data":{"name":"ann"},
"mark":{"type":"text","text":"=10","align":"left","baseline":"alphabetic","dx":12,"fontSize":13,"font":"Liberation Serif","color":"black"},
"encoding":{"x":{"field":"x","type":"quantitative","axis":null},"y":{"field":"y","type":"quantitative","axis":null}}},
{"data":{"name":"ann"},
"mark":{"type":"text","align":"left","baseline":"alphabetic","dx":33,"dy":-5,"fontSize":8,"font":"Liberation Serif","color":"black"},
"encoding":{"x":{"field":"x","type":"quantitative","axis":null},"y":{"field":"y","type":"quantitative","axis":null},"text":{"field":"e"}}}
],
"resolve":{"axis":{"x":"independent","y":"independent"}}
}
